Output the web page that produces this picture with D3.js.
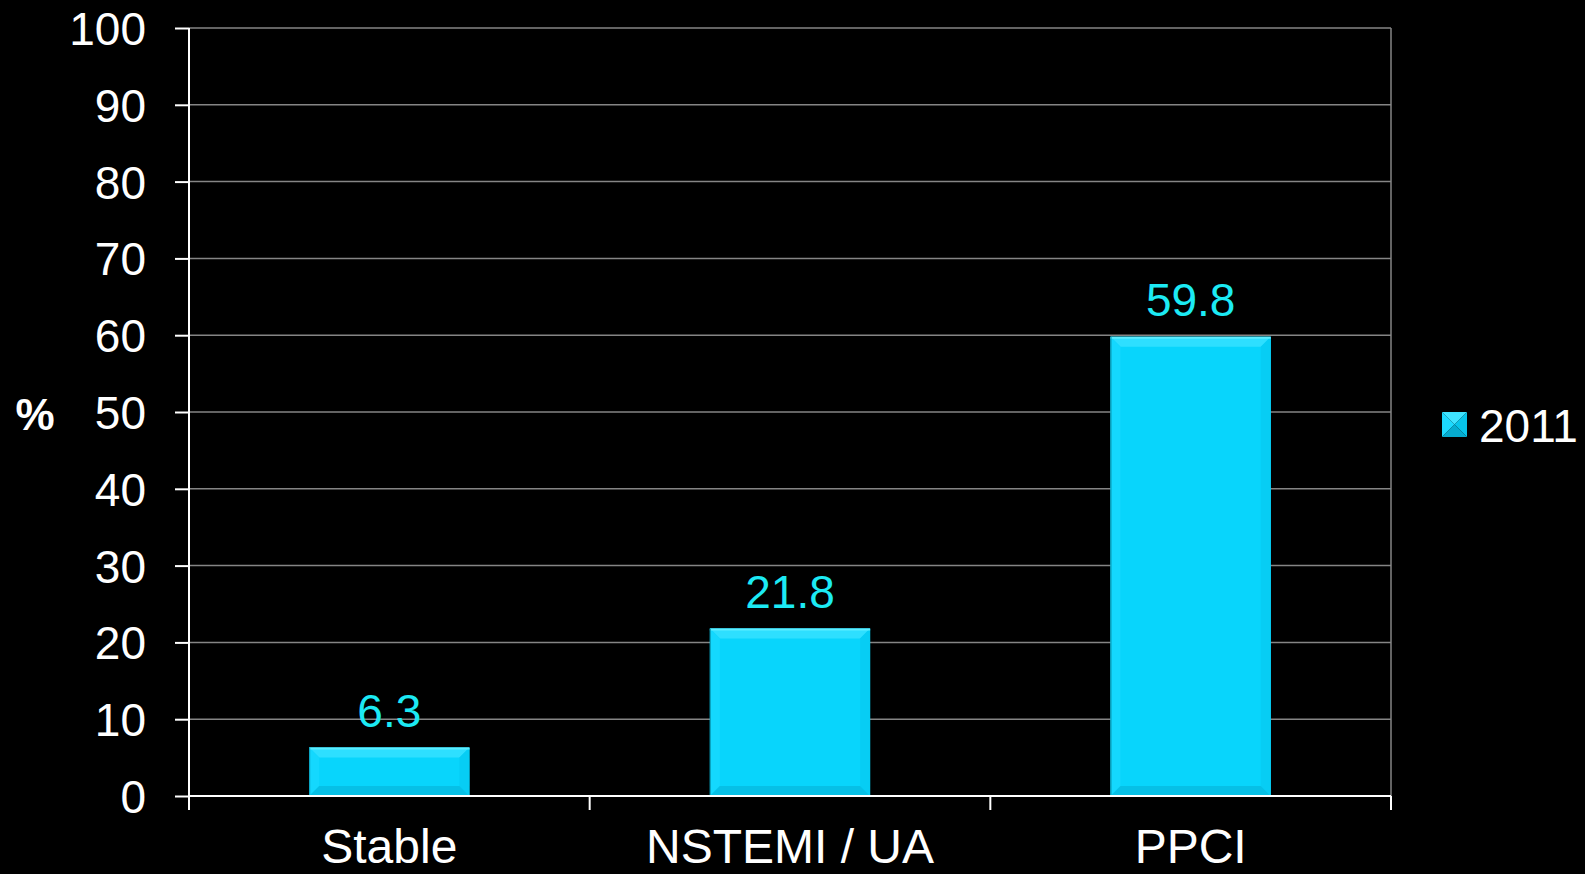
<!DOCTYPE html>
<html>
<head>
<meta charset="utf-8">
<script src="https://cdn.jsdelivr.net/npm/d3@7"></script>
<style>
  html, body { margin: 0; padding: 0; background: #000; }
  svg { display: block; }
  text { font-family: "Liberation Sans", Arial, sans-serif; }
</style>
</head>
<body>
<svg id="chart" width="1585" height="874"></svg>
<script>
const categories = ["Stable", "NSTEMI / UA", "PPCI"];
const values2011 = [6.3, 21.8, 59.8];
const seriesName = "2011";
const yTicks = [0, 10, 20, 30, 40, 50, 60, 70, 80, 90, 100];
const yLabel = "%";

const W = 1585, H = 874;
const m = { left: 189, right: 194, top: 28, bottom: 78 };
const svg = d3.select("#chart");
svg.append("rect").attr("width", W).attr("height", H).attr("fill", "#000");

const x = d3.scaleBand().domain(categories)
  .range([m.left, W - m.right]).paddingInner(0.6).paddingOuter(0.3);
const xTickScale = d3.scalePoint().domain(d3.range(categories.length + 1))
  .range([m.left, W - m.right]);
const y = d3.scaleLinear().domain([0, 100]).range([H - m.bottom, m.top]);

// gridlines
svg.append("g").selectAll("line").data(yTicks.filter(d => d > 0)).join("line")
  .attr("x1", m.left).attr("x2", W - m.right)
  .attr("y1", d => y(d)).attr("y2", d => y(d))
  .attr("stroke", "#858585").attr("stroke-width", 1.5);
// right frame line
svg.append("line")
  .attr("x1", W - m.right).attr("x2", W - m.right)
  .attr("y1", y(100)).attr("y2", y(0))
  .attr("stroke", "#858585").attr("stroke-width", 1.5);

// bars with bevel
const bev = 10;
const bars = svg.append("g").selectAll("g").data(values2011).join("g");
bars.each(function(v, i) {
  const g = d3.select(this);
  const x0 = x(categories[i]), x1 = x0 + x.bandwidth();
  const y0 = y(v), y1 = y(0);
  const b = Math.min(bev, (y1 - y0) / 2);
  g.append("rect").attr("x", x0).attr("y", y0).attr("width", x1 - x0).attr("height", y1 - y0)
    .attr("fill", "#08D5FC");
  const poly = (pts, fill) => g.append("polygon")
    .attr("points", pts.map(p => p.join(",")).join(" ")).attr("fill", fill);
  poly([[x0, y0], [x1, y0], [x1 - b, y0 + b], [x0 + b, y0 + b]], "#2EDFFF");
  poly([[x0, y0], [x0 + b, y0 + b], [x0 + b, y1 - b], [x0, y1]], "#14D8FE");
  poly([[x1, y0], [x1, y1], [x1 - b, y1 - b], [x1 - b, y0 + b]], "#07CDF4");
  poly([[x0, y1], [x0 + b, y1 - b], [x1 - b, y1 - b], [x1, y1]], "#06C0E6");
  g.append("line").attr("x1", x0).attr("x2", x1).attr("y1", y0 + 1).attr("y2", y0 + 1)
    .attr("stroke", "#5CEDFF").attr("stroke-width", 2);
  g.append("line").attr("x1", x0 + 0.5).attr("x2", x0 + 0.5).attr("y1", y0).attr("y2", y1)
    .attr("stroke", "#0A9CB8").attr("stroke-width", 1);
});

// data labels
svg.append("g").selectAll("text").data(values2011).join("text")
  .attr("x", (d, i) => x(categories[i]) + x.bandwidth() / 2)
  .attr("y", d => y(d) - 21)
  .attr("text-anchor", "middle")
  .attr("fill", "#1CEAF4")
  .attr("font-size", 46)
  .text(d => d.toFixed(1));

// y axis
const yAxis = d3.axisLeft(y).tickValues(yTicks).tickSize(14).tickPadding(29);
const yg = svg.append("g").attr("transform", `translate(${m.left},0)`).call(yAxis);
yg.select(".domain").attr("stroke", "#fff").attr("stroke-width", 2)
  .attr("d", `M0,${y(100)}V${y(0) + 14}`);
yg.selectAll(".tick line").attr("stroke", "#fff").attr("stroke-width", 2);
yg.selectAll(".tick text").attr("fill", "#fff").attr("font-size", 46)
  .attr("font-family", "Liberation Sans, Arial, sans-serif").attr("dy", "0.36em");

// x axis
const xg = svg.append("g").attr("transform", `translate(0,${y(0)})`);
xg.append("line").attr("x1", m.left).attr("x2", W - m.right).attr("y1", 0).attr("y2", 0)
  .attr("stroke", "#fff").attr("stroke-width", 2);
xg.selectAll("line.tk").data(xTickScale.domain()).join("line").attr("class", "tk")
  .attr("x1", d => xTickScale(d)).attr("x2", d => xTickScale(d))
  .attr("y1", 0).attr("y2", 14).attr("stroke", "#fff").attr("stroke-width", 2);
xg.selectAll("text").data(categories).join("text")
  .attr("x", d => x(d) + x.bandwidth() / 2)
  .attr("y", 67)
  .attr("text-anchor", "middle").attr("fill", "#fff").attr("font-size", 48)
  .text(d => d);

// y label
svg.append("text").attr("x", 35).attr("y", 430).attr("text-anchor", "middle")
  .attr("fill", "#fff").attr("font-size", 44).attr("font-weight", "bold").text(yLabel);

// legend
const lg = svg.append("g").attr("transform", "translate(1442,412)");
const s = 25, c = s / 2;
const tri = (pts, fill) => lg.append("polygon").attr("points", pts.map(p => p.join(",")).join(" ")).attr("fill", fill);
tri([[0, 0], [s, 0], [c, c]], "#3FE3FF");
tri([[0, 0], [c, c], [0, s]], "#1CD9FE");
tri([[s, 0], [s, s], [c, c]], "#07C4EA");
tri([[0, s], [c, c], [s, s]], "#06ABCF");
lg.append("text").attr("x", 37).attr("y", 30).attr("fill", "#fff").attr("font-size", 46).text(seriesName);
</script>
</body>
</html>
